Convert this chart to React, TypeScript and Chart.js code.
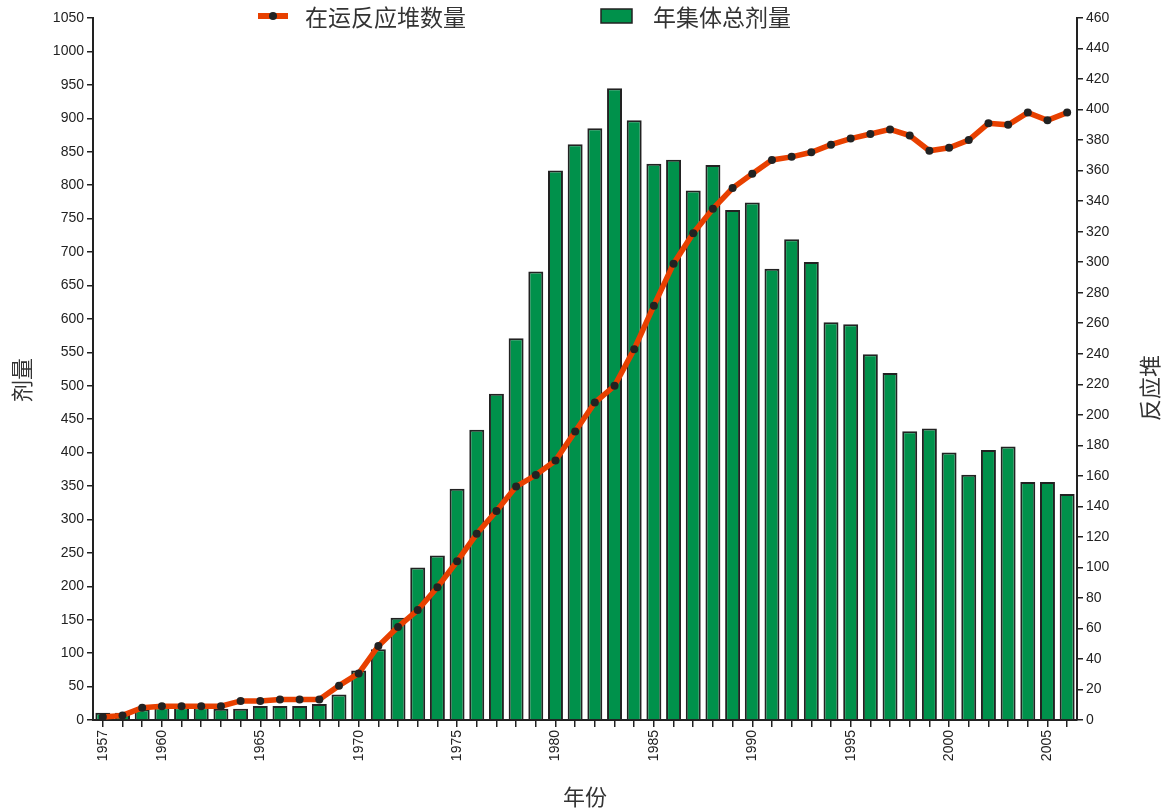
import React, { useEffect, useRef } from 'react';
import { Chart, registerables } from 'chart.js';

Chart.register(...registerables);

const years = [
  '1957', '1958', '1959', '1960', '1961', '1962', '1963', '1964', '1965', '1966',
  '1967', '1968', '1969', '1970', '1971', '1972', '1973', '1974', '1975', '1976',
  '1977', '1978', '1979', '1980', '1981', '1982', '1983', '1984', '1985', '1986',
  '1987', '1988', '1989', '1990', '1991', '1992', '1993', '1994', '1995', '1996',
  '1997', '1998', '1999', '2000', '2001', '2002', '2003', '2004', '2005', '2006',
];

const labeledYears = ['1957', '1960', '1965', '1970', '1975', '1980', '1985', '1990', '1995', '2000', '2005'];

// 年集体总剂量 (left axis)
const collectiveDose = [
  11, 11, 16, 19, 19, 19, 17, 17, 21, 21,
  21, 24, 38, 74, 106, 153, 228, 246, 346, 434,
  488, 571, 671, 822, 861, 885, 945, 897, 832, 838,
  792, 830, 763, 774, 675, 719, 685, 595, 592, 547,
  519, 432, 436, 400, 367, 404, 409, 356, 356, 338,
];

// 在运反应堆数量 (right axis)
const reactorCount = [
  2, 3, 8, 9, 9, 9, 9, 12.5, 12.5, 13.5,
  13.5, 13.5, 22.5, 30.5, 48.5, 61, 72, 87, 104, 122,
  137, 153, 160.5, 170, 189, 208, 219, 243, 271.5, 299,
  319, 335, 348.6, 358, 367, 369, 372, 377, 381, 384,
  387, 383, 373, 375, 380, 391, 390, 398, 393, 398,
];

const lineLabel = '在运反应堆数量';
const barLabel = '年集体总剂量';
const xTitle = '年份';
const leftTitle = '剂量';
const rightTitle = '反应堆';

const INK = '#222222';
const GREEN = '#00914b';
const RED = '#e84000';
const CJK = '"Noto Sans CJK SC", "Noto Sans", sans-serif';
const NUM = '"Liberation Sans", Arial, sans-serif';

const overlayPlugin = {
  id: 'overlayPlugin',
  afterDraw(chart: any) {
    const ctx = chart.ctx as CanvasRenderingContext2D;
    const lineDs = chart.data.datasets[0];
    const barDs = chart.data.datasets[1];
    ctx.save();
    // legend: line item
    ctx.strokeStyle = lineDs.borderColor;
    ctx.lineWidth = 6;
    ctx.beginPath();
    ctx.moveTo(258, 16);
    ctx.lineTo(288, 16);
    ctx.stroke();
    ctx.fillStyle = lineDs.pointBackgroundColor;
    ctx.beginPath();
    ctx.arc(273, 16, 4, 0, Math.PI * 2);
    ctx.fill();
    ctx.fillStyle = '#333';
    ctx.font = `23px ${CJK}`;
    ctx.textBaseline = 'middle';
    ctx.textAlign = 'left';
    ctx.fillText(lineDs.label, 305, 17);
    // legend: bar item
    ctx.fillStyle = barDs.backgroundColor;
    ctx.fillRect(601, 9, 31, 14);
    ctx.strokeStyle = barDs.borderColor;
    ctx.lineWidth = 1.5;
    ctx.strokeRect(601, 9, 31, 14);
    ctx.fillStyle = '#333';
    ctx.fillText(barDs.label, 653, 17);

    // axis titles
    ctx.font = `22px ${CJK}`;
    ctx.textAlign = 'center';
    ctx.fillText(xTitle, 585, 797);
    ctx.save();
    ctx.translate(22, 380);
    ctx.rotate(-Math.PI / 2);
    ctx.fillText(leftTitle, 0, 0);
    ctx.restore();
    ctx.save();
    ctx.translate(1150, 388);
    ctx.rotate(-Math.PI / 2);
    ctx.fillText(rightTitle, 0, 0);
    ctx.restore();
    ctx.restore();
  },
};

export default function App() {
  const canvasRef = useRef<HTMLCanvasElement | null>(null);

  useEffect(() => {
    if (!canvasRef.current) return;
    const chart = new Chart(canvasRef.current, {
      type: 'bar',
      data: {
        labels: years,
        datasets: [
          {
            type: 'line',
            label: lineLabel,
            data: reactorCount,
            yAxisID: 'y1',
            borderColor: RED,
            borderWidth: 5.5,
            pointRadius: 4,
            pointBackgroundColor: INK,
            pointBorderWidth: 0,
            pointBorderColor: INK,
            tension: 0,
            order: 0,
          } as any,
          {
            type: 'bar',
            label: barLabel,
            data: collectiveDose,
            yAxisID: 'y',
            backgroundColor: GREEN,
            borderColor: INK,
            borderWidth: 2,
            barPercentage: 0.76,
            categoryPercentage: 1,
            order: 1,
          } as any,
        ],
      },
      options: {
        animation: false,
        responsive: true,
        maintainAspectRatio: false,
        layout: { padding: { top: 18, left: 0, right: 0, bottom: 0 } },
        plugins: {
          legend: { display: false },
          tooltip: { enabled: false },
        },
        scales: {
          x: {
            type: 'category',
            offset: true,
            grid: {
              display: true,
              drawOnChartArea: false,
              drawTicks: true,
              tickLength: 7,
              color: INK,
              lineWidth: 1.5,
              offset: false,
            },
            border: { display: true, color: INK, width: 2 },
            ticks: {
              autoSkip: false,
              maxRotation: 90,
              minRotation: 90,
              padding: 3,
              color: INK,
              font: { family: NUM, size: 14 },
              callback: (_v: any, i: number) => (labeledYears.includes(years[i]) ? years[i] : ''),
            },
            afterFit: (s: any) => {
              s.height = 91;
            },
          },
          y: {
            position: 'left',
            min: 0,
            max: 1050,
            grid: {
              drawOnChartArea: false,
              drawTicks: true,
              tickLength: 6,
              color: INK,
              lineWidth: 1.5,
            },
            border: { display: true, color: INK, width: 2 },
            ticks: {
              stepSize: 50,
              padding: 3,
              color: INK,
              font: { family: NUM, size: 14 },
              callback: (v: any) => String(v),
            },
            afterFit: (s: any) => {
              s.width = 93;
            },
          },
          y1: {
            position: 'right',
            min: 0,
            max: 460,
            grid: {
              drawOnChartArea: false,
              drawTicks: true,
              tickLength: 6,
              color: INK,
              lineWidth: 1.5,
            },
            border: { display: true, color: INK, width: 2 },
            ticks: {
              stepSize: 20,
              padding: 3,
              color: INK,
              font: { family: NUM, size: 14 },
              callback: (v: any) => String(v),
            },
            afterFit: (s: any) => {
              s.width = 89;
            },
          },
        },
      },
      plugins: [overlayPlugin],
    });
    return () => chart.destroy();
  }, []);

  return (
    <div style={{ position: 'fixed', left: 0, top: 0, width: 1166, height: 811, background: '#fff' }}>
      <canvas ref={canvasRef} />
    </div>
  );
}
